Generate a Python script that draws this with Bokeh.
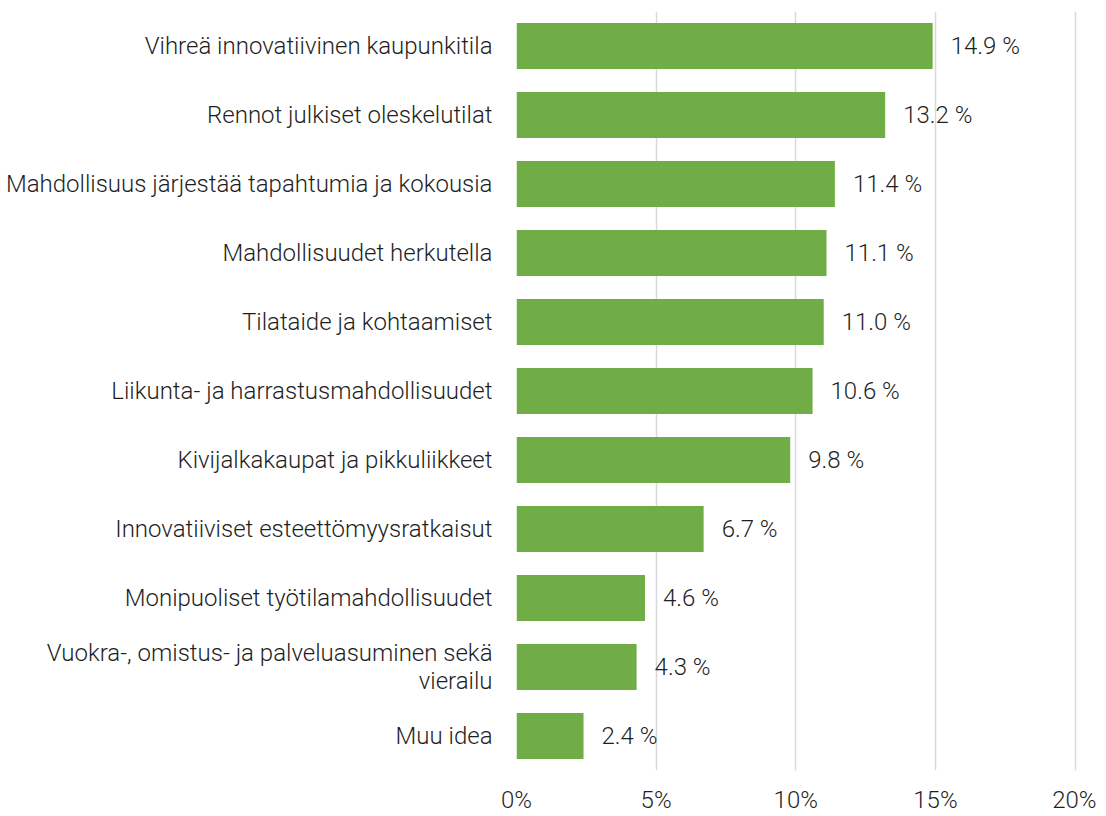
from bokeh.plotting import figure
from bokeh.models import FactorRange, FixedTicker, ColumnDataSource, LabelSet
from bokeh.core.properties import value
from bokeh.embed import file_html
from bokeh.resources import INLINE

categories = [
    "Vihreä innovatiivinen kaupunkitila",
    "Rennot julkiset oleskelutilat",
    "Mahdollisuus järjestää tapahtumia ja kokousia",
    "Mahdollisuudet herkutella",
    "Tilataide ja kohtaamiset",
    "Liikunta- ja harrastusmahdollisuudet",
    "Kivijalkakaupat ja pikkuliikkeet",
    "Innovatiiviset esteettömyysratkaisut",
    "Monipuoliset työtilamahdollisuudet",
    "Vuokra-, omistus- ja palveluasuminen sekä\nvierailu",
    "Muu idea",
]
values = [14.9, 13.2, 11.4, 11.1, 11.0, 10.6, 9.8, 6.7, 4.6, 4.3, 2.4]
value_labels = ["14.9 %", "13.2 %", "11.4 %", "11.1 %", "11.0 %", "10.6 %", "9.8 %", "6.7 %", "4.6 %", "4.3 %", "2.4 %"]
x_ticks = [0, 5, 10, 15, 20]
x_tick_labels = ["0%", "5%", "10%", "15%", "20%"]

FONT = "Roboto Light"
FS = "24px"
TXT = "#1f1f1f"

p = figure(
    width=1096, height=816,
    y_range=FactorRange(*list(reversed(categories))),
    x_range=(0, 20.05),
    output_backend="svg", toolbar_location=None,
    min_border_top=11, min_border_right=20, min_border_left=516, min_border_bottom=0,
)
p.outline_line_color = None

src = ColumnDataSource(dict(cat=categories, val=values, lab=value_labels))
p.hbar(y="cat", right="val", left=0, height=0.67, source=src,
       fill_color="#70AD47", line_color=None)

labels = LabelSet(x="val", y="cat", text="lab", source=src, x_offset=18,
                  text_font=value(FONT), text_font_size=FS, text_color=TXT,
                  text_baseline="middle", text_align="left")
p.add_layout(labels)

p.xaxis.ticker = FixedTicker(ticks=x_ticks)
p.xaxis.major_label_overrides = {t: l for t, l in zip(x_ticks, x_tick_labels)}
p.xaxis.axis_line_color = None
p.xaxis.major_tick_line_color = None
p.xaxis.minor_tick_line_color = None
p.xaxis.major_label_text_font = FONT
p.xaxis.major_label_text_font_size = FS
p.xaxis.major_label_text_color = TXT
p.xaxis.major_label_standoff = 9

p.yaxis.axis_line_color = None
p.yaxis.major_tick_line_color = None
p.yaxis.minor_tick_line_color = None
p.yaxis.major_label_text_font = FONT
p.yaxis.major_label_text_font_size = FS
p.yaxis.major_label_text_color = TXT
p.yaxis.major_label_text_line_height = 1.0
p.yaxis.major_label_standoff = 18

p.ygrid.grid_line_color = None
p.xgrid.grid_line_color = "#D9D9D9"
p.xgrid.grid_line_width = 1.5

open("out.html", "w").write(file_html(p, INLINE))
